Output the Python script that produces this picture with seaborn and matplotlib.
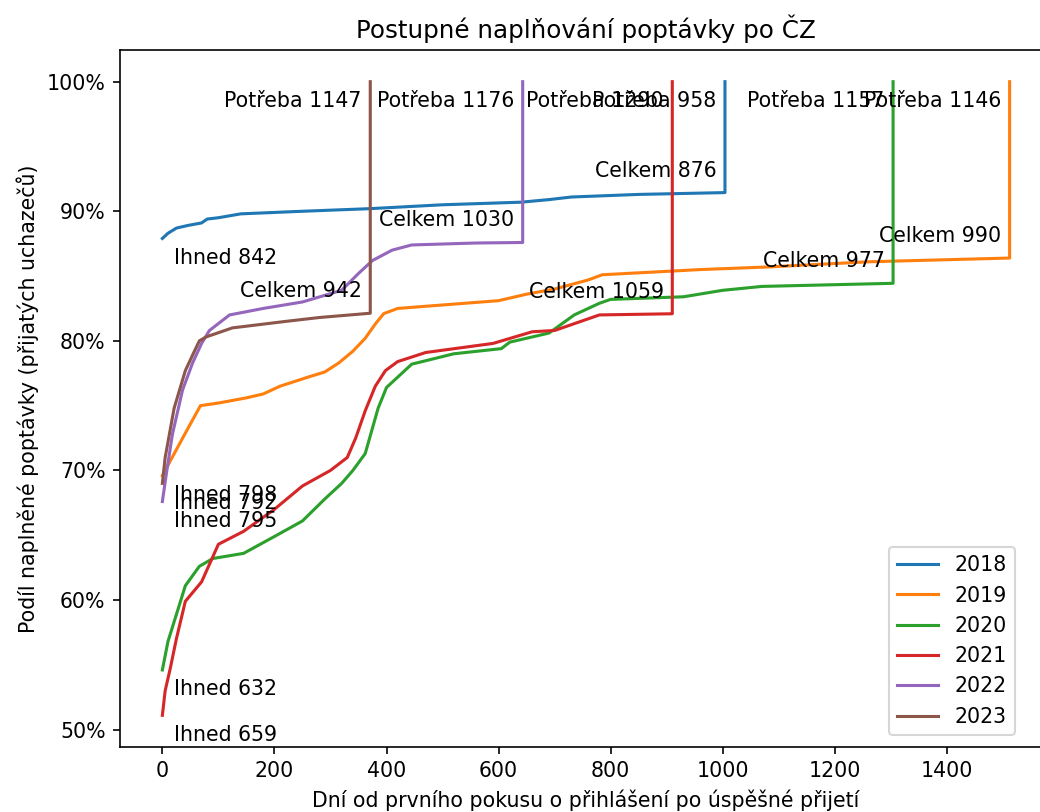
import pandas as pd
import numpy as np
import seaborn as sns
import matplotlib.pyplot as plt
from matplotlib.ticker import PercentFormatter

years = ["2018", "2019", "2020", "2021", "2022", "2023"]
ihned = [842, 798, 632, 659, 795, 792]
celkem = [876, 990, 977, 1059, 1030, 942]
potreba = [958, 1146, 1157, 1290, 1176, 1147]
last_day = [1004, 1512, 1304, 910, 643, 371]

# dny / procento naplnene poptavky
days_2018 = [0, 10, 25, 45, 70, 80, 100, 140, 250, 370, 500, 640, 690, 730, 850, 1004]
pct_2018 = [87.9, 88.3, 88.7, 88.9, 89.1, 89.4, 89.5, 89.8, 90.0, 90.2, 90.5, 90.7, 90.9, 91.1, 91.3, 91.44]

days_2019 = [0, 20, 40, 68, 100, 150, 180, 210, 260, 290, 315, 340, 362, 380, 395, 420, 450,
             600, 650, 700, 760, 785, 960, 1080, 1260, 1512]
pct_2019 = [69.6, 71.2, 72.8, 75.0, 75.2, 75.6, 75.9, 76.5, 77.2, 77.6, 78.3, 79.2, 80.2, 81.3, 82.1, 82.5, 82.6,
            83.1, 83.6, 84.0, 84.7, 85.1, 85.5, 85.7, 86.1, 86.39]

days_2020 = [0, 10, 23, 41, 66, 90, 145, 200, 250, 290, 320, 340, 362, 385, 400, 445, 520, 605, 620,
             690, 735, 780, 800, 930, 1000, 1070, 1304]
pct_2020 = [54.6, 56.8, 58.6, 61.1, 62.6, 63.2, 63.6, 64.9, 66.1, 67.8, 69.0, 70.0, 71.3, 74.8, 76.4, 78.2, 79.0, 79.4, 79.9,
            80.6, 82.0, 82.9, 83.2, 83.4, 83.9, 84.2, 84.44]

days_2021 = [0, 5, 14, 25, 41, 70, 100, 145, 200, 250, 300, 330, 345, 362, 380, 398, 420, 470, 590,
             660, 700, 780, 910]
pct_2021 = [51.1, 53.0, 54.7, 57.0, 59.9, 61.4, 64.3, 65.3, 67.0, 68.8, 70.0, 71.0, 72.5, 74.6, 76.5, 77.7, 78.4, 79.1, 79.8,
            80.7, 80.8, 82.0, 82.09]

days_2022 = [0, 8, 18, 36, 54, 70, 84, 120, 180, 250, 320, 350, 375, 410, 445, 560, 643]
pct_2022 = [67.6, 70.0, 72.8, 76.2, 78.3, 79.8, 80.8, 82.0, 82.5, 83.0, 83.9, 85.2, 86.2, 87.0, 87.4, 87.55, 87.59]

days_2023 = [0, 5, 21, 41, 55, 66, 78, 125, 220, 280, 371]
pct_2023 = [69.0, 71.0, 74.8, 77.7, 79.0, 80.0, 80.3, 81.0, 81.5, 81.8, 82.13]

all_days = [days_2018, days_2019, days_2020, days_2021, days_2022, days_2023]
all_pct = [pct_2018, pct_2019, pct_2020, pct_2021, pct_2022, pct_2023]

rows = []
for y, d, p in zip(years, all_days, all_pct):
    for dd, pp in zip(d, p):
        rows.append((y, dd, pp))
    rows.append((y, d[-1], 100.0))
df = pd.DataFrame(rows, columns=["rok", "dni", "podil"])

fig = plt.figure(figsize=(1040 / 148, 812 / 148), dpi=148)
ax = fig.add_axes([120 / 1040, 65 / 812, 932 / 1040, 697 / 812])

sns.lineplot(data=df, x="dni", y="podil", hue="rok", palette="tab10", sort=False,
             estimator=None, linewidth=1.5, ax=ax)

for i in range(len(years)):
    start = all_pct[i][0]
    final = all_pct[i][-1]
    ax.text(20, start - 1.5, f"Ihned {ihned[i]}", ha="left", va="center", fontsize=10)
    ax.text(last_day[i] - 15, final + 1.7, f"Celkem {celkem[i]}", ha="right", va="center", fontsize=10)
    ax.text(last_day[i] - 15, 98.5, f"Potřeba {potreba[i]}", ha="right", va="center", fontsize=10)

ax.yaxis.set_major_formatter(PercentFormatter(100, decimals=0))
ax.set_title("Postupné naplňování poptávky po ČZ")
ax.set_xlabel("Dní od prvního pokusu o přihlášení po úspěšné přijetí")
ax.set_ylabel("Podíl naplněné poptávky (přijatých uchazečů)")

handles, labels = ax.get_legend_handles_labels()
ax.legend(handles, labels, loc="lower right", bbox_to_anchor=(1015 / 1040, 77 / 812),
          bbox_transform=fig.transFigure, borderaxespad=0)

plt.savefig("out.png", dpi=148)
